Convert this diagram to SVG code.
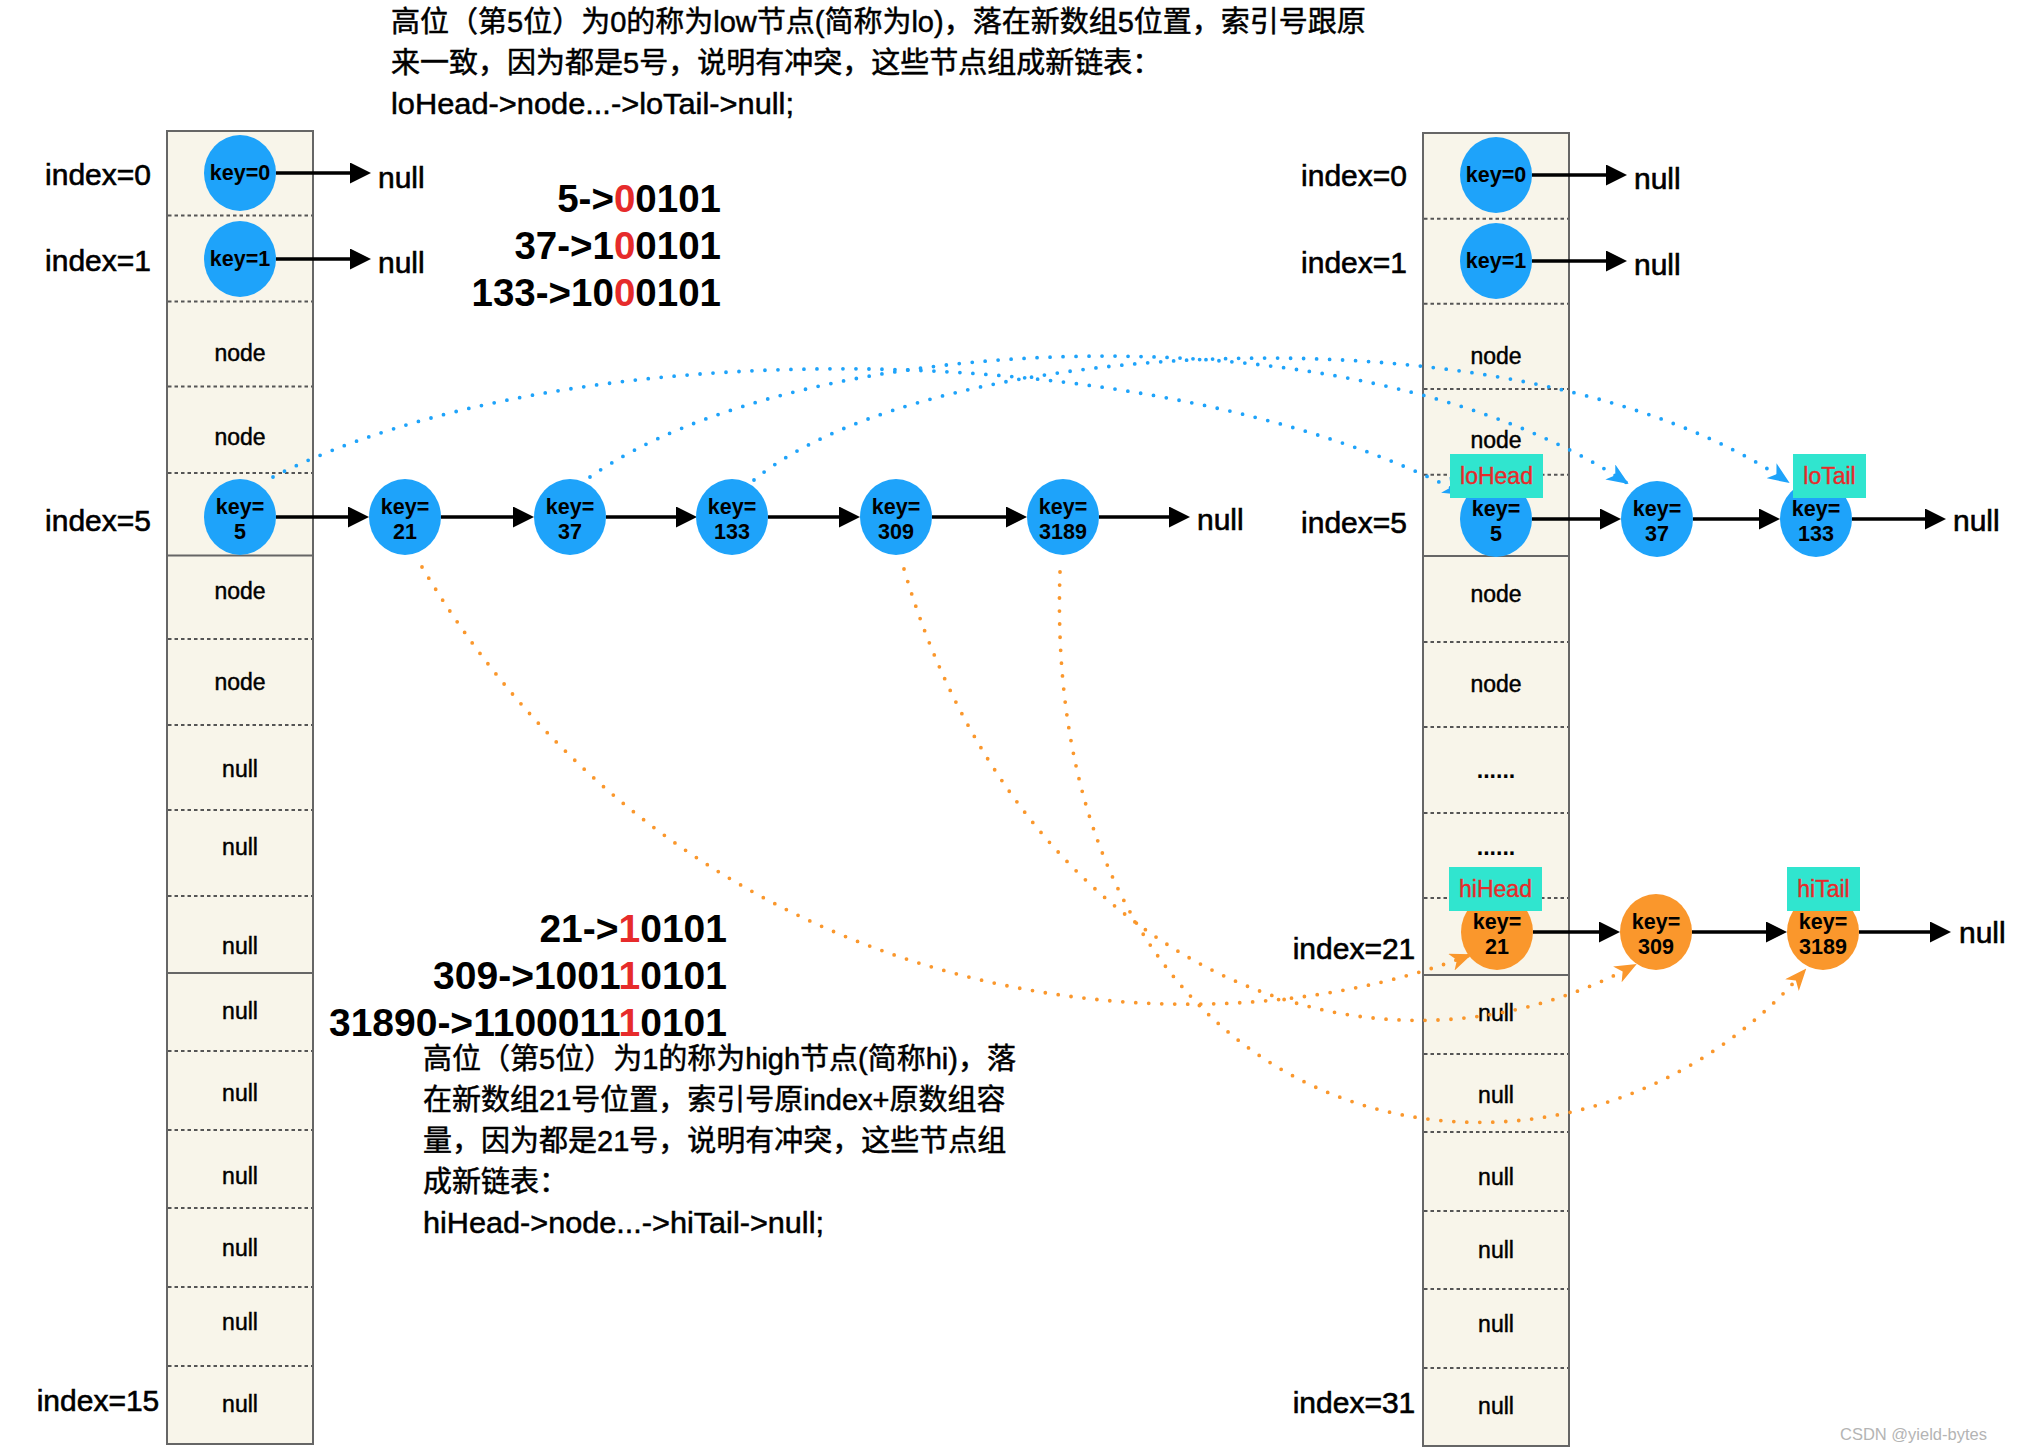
<svg xmlns="http://www.w3.org/2000/svg" width="2018" height="1454" viewBox="0 0 2018 1454">
<style>
text{font-family:"Liberation Sans",Arial,"Noto Sans CJK SC",sans-serif;fill:#000}
.idx{font-size:30px;text-anchor:middle;stroke:#000;stroke-width:0.6}
.nul{font-size:30px;stroke:#000;stroke-width:0.6}
.cell{font-size:23px;text-anchor:middle;stroke:#000;stroke-width:0.45}
.dots{font-size:23px;font-weight:bold;text-anchor:middle}
.key{font-size:21.5px;font-weight:bold;text-anchor:middle}
.bin{font-weight:bold;text-anchor:end}
.red{fill:#e62b2b}
.cn{font-size:29px;font-family:"Liberation Sans","Noto Sans CJK SC",sans-serif;stroke:#000;stroke-width:0.5}
.tag{font-size:23px;text-anchor:middle;fill:#e62b2b;stroke:#e62b2b;stroke-width:0.4}
.tbl{fill:#f8f5ea;stroke:#666;stroke-width:2}
.dash{stroke:#555;stroke-width:2;stroke-dasharray:3.5 3}
.solid{stroke:#666;stroke-width:2}
.blue{fill:#1ea3fa}
.orange{fill:#fa972c}
.tagbox{fill:#30e5cf}
.arr{stroke:#000;stroke-width:3.5;fill:none;marker-end:url(#blk)}
.bcurve{stroke:#1ea3fa;stroke-width:3.8;fill:none;stroke-dasharray:0 13;stroke-linecap:round;marker-end:url(#ab)}
.ocurve{stroke:#fa972c;stroke-width:3.8;fill:none;stroke-dasharray:0 13;stroke-linecap:round;marker-end:url(#ao)}
.wm{font-size:16.5px;fill:#b4b4b4}
</style>
<defs>
<marker id="blk" markerUnits="userSpaceOnUse" markerWidth="21" markerHeight="21" viewBox="0 0 21 21" refX="6" refY="10.5" orient="auto"><path d="M0,0 L21,10.5 L0,21 z" fill="#000"/></marker>
<marker id="ab" markerUnits="userSpaceOnUse" markerWidth="22" markerHeight="18" viewBox="0 0 22 18" refX="20" refY="9" orient="auto"><path d="M0,0 L22,9 L0,18 L6,9 z" fill="#1ea3fa"/></marker>
<marker id="ao" markerUnits="userSpaceOnUse" markerWidth="22" markerHeight="18" viewBox="0 0 22 18" refX="20" refY="9" orient="auto"><path d="M0,0 L22,9 L0,18 L6,9 z" fill="#fa972c"/></marker>
</defs>
<rect width="2018" height="1454" fill="#fff"/>

<!-- text blocks -->
<g id="lo-desc">
<text class="cn" x="391" y="32">高位（第5位）为0的称为low节点(简称为lo)，落在新数组5位置，索引号跟原</text>
<text class="cn" x="391" y="73">来一致，因为都是5号，说明有冲突，这些节点组成新链表：</text>
<text class="cn" x="391" y="114" textLength="403" lengthAdjust="spacingAndGlyphs">loHead-&gt;node...-&gt;loTail-&gt;null;</text>
</g>
<g id="lo-bits" font-size="38.5">
<text class="bin" x="721" y="212">5-&gt;<tspan class="red">0</tspan>0101</text>
<text class="bin" x="721" y="259">37-&gt;1<tspan class="red">0</tspan>0101</text>
<text class="bin" x="721" y="306">133-&gt;10<tspan class="red">0</tspan>0101</text>
</g>
<g id="hi-bits" font-size="39">
<text class="bin" x="727" y="942">21-&gt;<tspan class="red">1</tspan>0101</text>
<text class="bin" x="727" y="989">309-&gt;1001<tspan class="red">1</tspan>0101</text>
<text class="bin" x="727" y="1036">31890-&gt;1100011<tspan class="red">1</tspan>0101</text>
</g>
<g id="hi-desc">
<text class="cn" x="423" y="1069">高位（第5位）为1的称为high节点(简称hi)，落</text>
<text class="cn" x="423" y="1110">在新数组21号位置，索引号原index+原数组容</text>
<text class="cn" x="423" y="1151">量，因为都是21号，说明有冲突，这些节点组</text>
<text class="cn" x="423" y="1192">成新链表：</text>
<text class="cn" x="423" y="1233" textLength="401" lengthAdjust="spacingAndGlyphs">hiHead-&gt;node...-&gt;hiTail-&gt;null;</text>
</g>

<!-- old table -->
<g id="old-table">
<rect class="tbl" x="167" y="131" width="146" height="1313"/>
<g class="dash">
<line x1="168" x2="312" y1="215.5" y2="215.5"/><line x1="168" x2="312" y1="301.5" y2="301.5"/>
<line x1="168" x2="312" y1="386.5" y2="386.5"/><line x1="168" x2="312" y1="473" y2="473"/>
<line x1="168" x2="312" y1="639" y2="639"/><line x1="168" x2="312" y1="725" y2="725"/>
<line x1="168" x2="312" y1="810" y2="810"/><line x1="168" x2="312" y1="896" y2="896"/>
<line x1="168" x2="312" y1="1051" y2="1051"/><line x1="168" x2="312" y1="1130" y2="1130"/>
<line x1="168" x2="312" y1="1208" y2="1208"/><line x1="168" x2="312" y1="1287" y2="1287"/>
<line x1="168" x2="312" y1="1366" y2="1366"/>
</g>
<line class="solid" x1="167" x2="313" y1="555.5" y2="555.5"/>
<line class="solid" x1="167" x2="313" y1="973" y2="973"/>
<text class="cell" x="240" y="361">node</text>
<text class="cell" x="240" y="445">node</text>
<text class="cell" x="240" y="599">node</text>
<text class="cell" x="240" y="690">node</text>
<text class="cell" x="240" y="777">null</text>
<text class="cell" x="240" y="855">null</text>
<text class="cell" x="240" y="954">null</text>
<text class="cell" x="240" y="1019">null</text>
<text class="cell" x="240" y="1101">null</text>
<text class="cell" x="240" y="1184">null</text>
<text class="cell" x="240" y="1256">null</text>
<text class="cell" x="240" y="1330">null</text>
<text class="cell" x="240" y="1412">null</text>
<text class="idx" x="98" y="185">index=0</text>
<text class="idx" x="98" y="271">index=1</text>
<text class="idx" x="98" y="531">index=5</text>
<text class="idx" x="98" y="1411">index=15</text>
</g>

<!-- new table -->
<g id="new-table">
<rect class="tbl" x="1423" y="133" width="146" height="1313"/>
<g class="dash">
<line x1="1424" x2="1568" y1="218.7" y2="218.7"/><line x1="1424" x2="1568" y1="303.7" y2="303.7"/>
<line x1="1424" x2="1568" y1="389" y2="389"/><line x1="1424" x2="1568" y1="474.7" y2="474.7"/>
<line x1="1424" x2="1568" y1="642" y2="642"/><line x1="1424" x2="1568" y1="727" y2="727"/>
<line x1="1424" x2="1568" y1="813" y2="813"/><line x1="1424" x2="1568" y1="898" y2="898"/>
<line x1="1424" x2="1568" y1="1054" y2="1054"/><line x1="1424" x2="1568" y1="1132" y2="1132"/>
<line x1="1424" x2="1568" y1="1211" y2="1211"/><line x1="1424" x2="1568" y1="1289" y2="1289"/>
<line x1="1424" x2="1568" y1="1368" y2="1368"/>
</g>
<line class="solid" x1="1423" x2="1569" y1="556" y2="556"/>
<line class="solid" x1="1423" x2="1569" y1="975" y2="975"/>
<text class="cell" x="1496" y="364">node</text>
<text class="cell" x="1496" y="448">node</text>
<text class="cell" x="1496" y="602">node</text>
<text class="cell" x="1496" y="692">node</text>
<text class="dots" x="1496" y="778">......</text>
<text class="dots" x="1496" y="855">......</text>
<text class="cell" x="1496" y="1021">null</text>
<text class="cell" x="1496" y="1103">null</text>
<text class="cell" x="1496" y="1185">null</text>
<text class="cell" x="1496" y="1258">null</text>
<text class="cell" x="1496" y="1332">null</text>
<text class="cell" x="1496" y="1414">null</text>
<text class="idx" x="1354" y="186">index=0</text>
<text class="idx" x="1354" y="273">index=1</text>
<text class="idx" x="1354" y="533">index=5</text>
<text class="idx" x="1354" y="959">index=21</text>
<text class="idx" x="1354" y="1413">index=31</text>
</g>

<!-- connectors -->
<g id="connectors">
<line class="arr" x1="276" y1="173" x2="356" y2="173"/>
<line class="arr" x1="276" y1="259" x2="356" y2="259"/>
<line class="arr" x1="276" y1="517" x2="354" y2="517"/>
<line class="arr" x1="441" y1="517" x2="519" y2="517"/>
<line class="arr" x1="606" y1="517" x2="682" y2="517"/>
<line class="arr" x1="768" y1="517" x2="845" y2="517"/>
<line class="arr" x1="932" y1="517" x2="1012" y2="517"/>
<line class="arr" x1="1099" y1="517" x2="1175" y2="517"/>
<line class="arr" x1="1532" y1="175" x2="1612" y2="175"/>
<line class="arr" x1="1532" y1="261" x2="1612" y2="261"/>
<line class="arr" x1="1532" y1="519" x2="1606" y2="519"/>
<line class="arr" x1="1693" y1="519" x2="1765" y2="519"/>
<line class="arr" x1="1852" y1="519" x2="1931" y2="519"/>
<line class="arr" x1="1533" y1="932" x2="1605" y2="932"/>
<line class="arr" x1="1692" y1="932" x2="1772" y2="932"/>
<line class="arr" x1="1859" y1="932" x2="1936" y2="932"/>
<path class="bcurve" d="M273,477 C560,330 1150,330 1463,494"/>
<path class="bcurve" d="M590,477 C800,330 1350,300 1627,483"/>
<path class="bcurve" d="M754,480 C930,335 1520,300 1788,482"/>
<path class="ocurve" d="M422,567 C680,1000 1170,1070 1470,955"/>
<path class="ocurve" d="M904,569 C1016,953 1355,1115 1635,965"/>
<path class="ocurve" d="M1060,572 C1040,1150 1560,1255 1805,970"/>
</g>

<g id="null-labels">
<text class="nul" x="378" y="188">null</text>
<text class="nul" x="378" y="273">null</text>
<text class="nul" x="1197" y="530">null</text>
<text class="nul" x="1634" y="189">null</text>
<text class="nul" x="1634" y="275">null</text>
<text class="nul" x="1953" y="531">null</text>
<text class="nul" x="1959" y="943">null</text>
</g>

<!-- old nodes -->
<g id="old-key0"><ellipse class="blue" cx="240" cy="173" rx="36" ry="38"/><text class="key" x="240" y="180">key=0</text></g>
<g id="old-key1"><ellipse class="blue" cx="240" cy="259" rx="36" ry="38"/><text class="key" x="240" y="266">key=1</text></g>
<g id="old-key5"><ellipse class="blue" cx="240" cy="517" rx="36" ry="38"/><text class="key" x="240" y="514">key=</text><text class="key" x="240" y="539">5</text></g>
<g id="old-key21"><ellipse class="blue" cx="405" cy="517" rx="36" ry="38"/><text class="key" x="405" y="514">key=</text><text class="key" x="405" y="539">21</text></g>
<g id="old-key37"><ellipse class="blue" cx="570" cy="517" rx="36" ry="38"/><text class="key" x="570" y="514">key=</text><text class="key" x="570" y="539">37</text></g>
<g id="old-key133"><ellipse class="blue" cx="732" cy="517" rx="36" ry="38"/><text class="key" x="732" y="514">key=</text><text class="key" x="732" y="539">133</text></g>
<g id="old-key309"><ellipse class="blue" cx="896" cy="517" rx="36" ry="38"/><text class="key" x="896" y="514">key=</text><text class="key" x="896" y="539">309</text></g>
<g id="old-key3189"><ellipse class="blue" cx="1063" cy="517" rx="36" ry="38"/><text class="key" x="1063" y="514">key=</text><text class="key" x="1063" y="539">3189</text></g>

<!-- new nodes -->
<g id="new-key0"><ellipse class="blue" cx="1496" cy="175" rx="36" ry="38"/><text class="key" x="1496" y="182">key=0</text></g>
<g id="new-key1"><ellipse class="blue" cx="1496" cy="261" rx="36" ry="38"/><text class="key" x="1496" y="268">key=1</text></g>
<g id="new-key5"><ellipse class="blue" cx="1496" cy="519" rx="36" ry="38"/><text class="key" x="1496" y="516">key=</text><text class="key" x="1496" y="541">5</text></g>
<g id="new-key37"><ellipse class="blue" cx="1657" cy="519" rx="36" ry="38"/><text class="key" x="1657" y="516">key=</text><text class="key" x="1657" y="541">37</text></g>
<g id="new-key133"><ellipse class="blue" cx="1816" cy="519" rx="36" ry="38"/><text class="key" x="1816" y="516">key=</text><text class="key" x="1816" y="541">133</text></g>
<g id="new-key21"><ellipse class="orange" cx="1497" cy="932" rx="36" ry="38"/><text class="key" x="1497" y="929">key=</text><text class="key" x="1497" y="954">21</text></g>
<g id="new-key309"><ellipse class="orange" cx="1656" cy="932" rx="36" ry="38"/><text class="key" x="1656" y="929">key=</text><text class="key" x="1656" y="954">309</text></g>
<g id="new-key3189"><ellipse class="orange" cx="1823" cy="932" rx="36" ry="38"/><text class="key" x="1823" y="929">key=</text><text class="key" x="1823" y="954">3189</text></g>

<!-- tags -->
<g id="tag-loHead"><rect class="tagbox" x="1450" y="454" width="93" height="44"/><text class="tag" x="1496.5" y="484">loHead</text></g>
<g id="tag-loTail"><rect class="tagbox" x="1793" y="454" width="73" height="44"/><text class="tag" x="1829.5" y="484">loTail</text></g>
<g id="tag-hiHead"><rect class="tagbox" x="1449" y="867" width="93" height="44"/><text class="tag" x="1495.5" y="897">hiHead</text></g>
<g id="tag-hiTail"><rect class="tagbox" x="1787" y="867" width="73" height="44"/><text class="tag" x="1823.5" y="897">hiTail</text></g>

<text class="wm" x="1840" y="1440">CSDN @yield-bytes</text>
</svg>
